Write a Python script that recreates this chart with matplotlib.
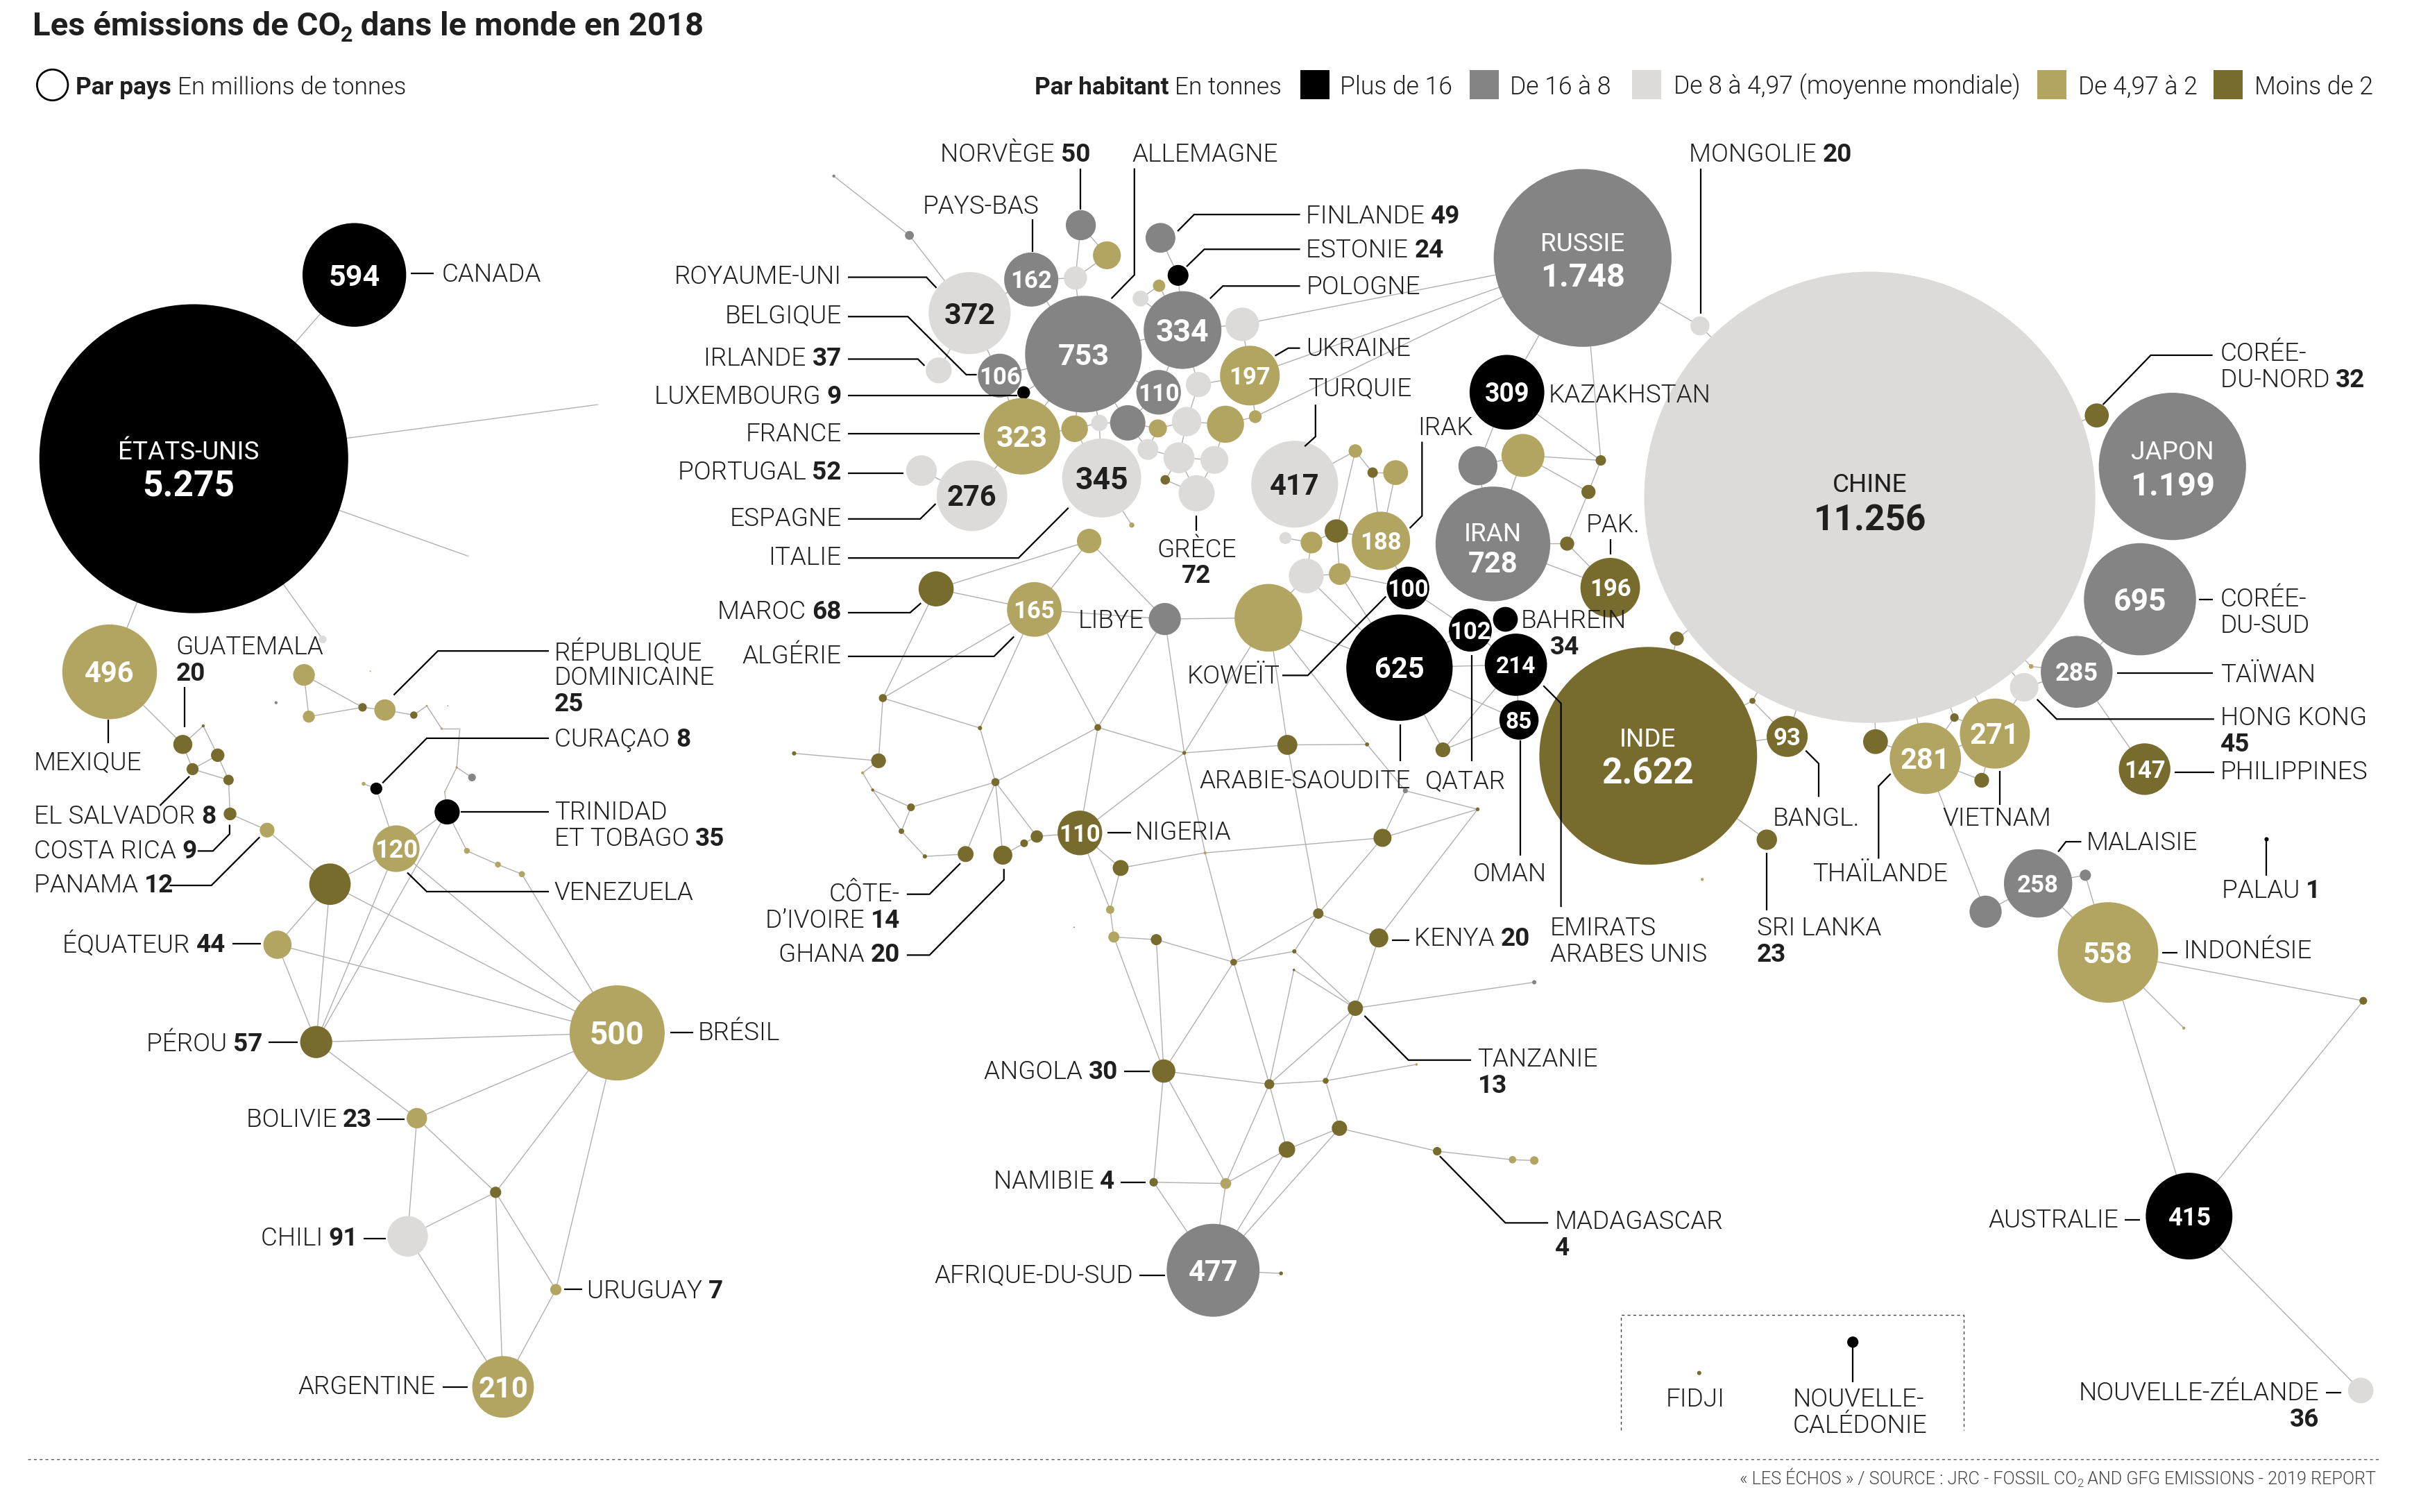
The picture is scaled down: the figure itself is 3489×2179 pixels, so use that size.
import math

import matplotlib
matplotlib.use("Agg")
import matplotlib.pyplot as plt
from matplotlib.patches import Circle, Rectangle

plt.rcParams["font.family"] = ["Roboto", "DejaVu Sans"]

# the sheet is laid out in units of the 1568 wide version of the page
W, H = 1568, 979
R_PER_SQRT = 1.377   # circle area follows emissions, USA = 100 units radius
LABEL_SIZE = 13.3

TIER_COLORS = ["#000000", "#848484", "#dcdbd9", "#b2a562", "#776b2d"]
INK = "#1f1f1f"

# --- Americas
am_names = ["Canada", "USA", "Mexique", "Bermudes", "Groenland", "StPierre", "Guatemala", "Belize",
            "Honduras", "Salvador", "Nicaragua", "CostaRica", "Panama", "Colombie", "Equateur",
            "Perou", "Bresil", "Bolivie", "Chili", "Paraguay", "Uruguay", "Argentine", "Venezuela",
            "Trinidad", "Curacao", "Aruba", "Guyana", "Suriname", "Guyane", "Cuba", "Jamaique",
            "Haiti", "RepDom", "PortoRico", "Antigua", "SteLucie", "StMartin", "Grenade", "Barbade",
            "Tobago", "Bahamas", "Caimans", "Dominique"]
am_emissions = [594, 5275, 496, 3.3, 0.2, 0.3, 20, 0.5,
                10, 8, 6, 9, 12, 95, 44,
                57, 500, 23, 91, 7, 7, 210, 120,
                35, 8, 0.8, 1.9, 1.9, 2.1, 26, 8,
                4, 25, 3, 0.2, 0.3, 0.2, 0.3, 3.3,
                0.05, 0.5, 0.1, 0.05]
am_tiers = [0, 0, 3, 2, 2, 2, 4, 4,
            4, 4, 4, 4, 3, 4, 3,
            4, 3, 3, 2, 4, 3, 3, 3,
            0, 0, 3, 3, 3, 3, 3, 3,
            4, 3, 4, 3, 3, 2, 3, 1,
            3, 1, 3, 4]
am_x = [229.5, 125.5, 71, 209, 387, 303, 118.4, 131.6,
        141, 124.7, 148, 149, 173, 213.7, 179.7,
        204.8, 399.7, 270, 264, 321, 360, 325.8, 256.6,
        289.6, 243.7, 235.5, 302.4, 322.5, 338, 196.9, 200,
        234.8, 249.3, 268, 276.4, 286, 297.8, 295.8, 305.7,
        288, 178.8, 239.8, 290]
am_y = [178, 297, 435, 414, 262, 360, 482, 470,
        489, 498, 505, 527, 537.5, 572.5, 611.7,
        674.7, 668.8, 724, 800.5, 772, 835, 898, 549.5,
        525.7, 510.6, 507.5, 550.9, 559.8, 566, 437, 464,
        458, 459.7, 463, 457, 471.8, 471.8, 496.9, 503.4,
        512.7, 455, 434.6, 457]

# --- Europe
eu_names = ["Feroe", "Islande", "RoyaumeUni", "PaysBas", "Norvege", "Suede", "Danemark", "Allemagne",
            "Finlande", "Estonie", "Lettonie", "Lituanie", "Pologne", "Bielorussie", "Ukraine",
            "Belgique", "Luxembourg", "Irlande", "France", "Portugal", "Espagne", "Italie",
            "Tchequie", "Slovaquie", "Moldavie", "Roumanie", "Hongrie", "Croatie", "Autriche",
            "Slovenie", "Suisse", "Bosnie", "Serbie", "Bulgarie", "Grece", "Albanie", "Malte"]
eu_emissions = [0.5, 4.4, 372, 162, 50, 43, 30, 753,
                49, 24, 8.4, 14, 334, 62, 197,
                106, 9, 37, 323, 52, 276, 345,
                110, 35, 9, 76, 48, 18, 69,
                15, 39, 24, 53, 43, 72, 5, 1.5]
eu_tiers = [1, 1, 2, 1, 1, 3, 2, 1,
            1, 0, 3, 2, 1, 2, 3,
            1, 0, 2, 3, 2, 2, 2,
            1, 2, 3, 3, 2, 3, 1,
            2, 3, 2, 2, 2, 2, 4, 3]
eu_x = [540, 589, 628, 667.9, 700, 716.9, 696.5, 701.7,
        751.6, 763, 750.7, 738.7, 765.9, 804.6, 809.5,
        647.5, 663, 608, 661.9, 596.8, 629.5, 713.5,
        750.4, 776.2, 813, 793.7, 768.5, 749.9, 730.4,
        712, 696, 743.5, 763.6, 786.5, 775, 754.7, 733]
eu_y = [114, 152.4, 202.7, 181, 145.8, 165.3, 180, 229.3,
        154, 178.3, 185, 193.3, 213.7, 210, 243.2,
        243.2, 254.2, 239.8, 282.5, 304.7, 321, 309.5,
        254, 249, 269.8, 274.7, 273, 277.4, 273.8,
        273.8, 277.6, 291, 296.4, 297.8, 319.4, 310.7, 340]

# --- Africa
af_names = ["Tunisie", "Maroc", "Algerie", "Libye", "Egypte", "Mauritanie", "Mali", "Niger", "Tchad",
            "Soudan", "Erythree", "Djibouti", "Somalie", "Ethiopie", "Centrafrique", "Ouganda",
            "Kenya", "Senegal", "CapVert", "Gambie", "GuineeB", "Guinee", "SierraLeone", "Liberia",
            "Burkina", "CoteIvoire", "Ghana", "Togo", "Benin", "Nigeria", "Cameroun", "GuineeEq",
            "Gabon", "Congo", "RDC", "Rwanda", "Burundi", "Tanzanie", "Seychelles", "Angola",
            "Zambie", "Malawi", "Comores", "Mozambique", "Zimbabwe", "Madagascar", "Reunion",
            "Maurice", "Namibie", "Botswana", "AfriqueSud", "Lesotho", "SaoTome"]
af_emissions = [33, 68, 165, 57, 253, 3.6, 1, 2.5, 0.8,
                22, 0.9, 1.4, 0.8, 18, 0.5, 6,
                20, 12, 1, 0.5, 0.5, 3.3, 1.7, 1,
                3.6, 14, 20, 3.3, 8.4, 110, 14, 3.8,
                6.8, 6.8, 2.5, 1, 0.34, 13, 1, 30,
                5.4, 1.9, 0.34, 13, 15, 4, 3,
                4, 4, 6.5, 477, 0.8, 0.1]
af_tiers = [3, 4, 3, 1, 3, 4, 4, 4, 4,
            4, 4, 1, 4, 4, 3, 4,
            4, 4, 4, 3, 4, 4, 4, 4,
            4, 4, 4, 4, 4, 4, 4, 3,
            3, 4, 4, 4, 4, 4, 1, 4,
            4, 4, 3, 4, 4, 4, 3,
            3, 4, 3, 1, 4, 1]
af_x = [705.4, 606.3, 669.9, 754.4, 821.5, 571.8, 634.7, 711, 767,
        833.8, 885.4, 910.2, 957, 895.4, 780.5, 853.8,
        893, 569, 514.3, 558.7, 565.2, 590, 583.8, 599,
        644.7, 625.4, 649.5, 663.3, 671.5, 699.4, 725.8, 719,
        721.4, 748.9, 799, 838.3, 838, 877.8, 993.7, 753.7,
        822.1, 858.6, 917.4, 867.5, 833.5, 930.8, 979.6,
        993.7, 747.2, 793.9, 785.7, 829.7, 695.6]
af_y = [350.3, 381.3, 394.6, 400.8, 400, 452, 471.4, 471, 487.5,
        482.3, 482, 512, 524, 542.5, 552.2, 591.5,
        607.3, 492.6, 487.8, 500.4, 511.5, 522.7, 538.2, 554.5,
        506.4, 553, 553.7, 546, 541.6, 539.3, 562, 589,
        606.7, 608.4, 623, 616, 628, 652.8, 636, 693.5,
        702, 699.8, 689.2, 730.5, 744.3, 745.4, 750.9,
        751.4, 765.5, 766.3, 822.5, 824.5, 600.4]

# --- Asia and Oceania
as_names = ["Turquie", "Georgie", "Armenie", "Azerbaidjan", "Irak", "Syrie", "Liban", "Chypre", "Israel",
            "Jordanie", "Koweit", "Arabie", "Qatar", "Bahrein", "Emirats", "Oman", "Yemen", "Iran",
            "Turkmenistan", "Ouzbekistan", "Kazakhstan", "Kirghizistan", "Tadjikistan", "Afghanistan",
            "Pakistan", "Inde", "Nepal", "Bhoutan", "Bangladesh", "SriLanka", "Maldives", "Chine",
            "Russie", "Mongolie", "CoreeNord", "Japon", "CoreeSud", "Taiwan", "Macao", "HongKong",
            "Philippines", "Thailande", "Vietnam", "Birmanie", "Cambodge", "Laos", "Malaisie",
            "Singapour", "Brunei", "Indonesie", "PNG", "Timor", "Palau", "Australie", "NZ",
            "Fidji", "NCaledonie"]
as_emissions = [417, 10, 6, 34, 188, 30, 26, 8, 67,
                26, 100, 625, 102, 34, 214, 85, 12, 728,
                84, 102, 309, 6, 11, 11,
                196, 2622, 11, 2, 93, 23, 0.5, 11256,
                1748, 20, 32, 1199, 695, 285, 1.2, 45,
                147, 281, 271, 34, 12, 4, 258,
                57, 7, 558, 3.3, 0.5, 1, 415, 36,
                1, 7]
as_tiers = [2, 3, 4, 3, 3, 4, 3, 2, 2,
            3, 0, 0, 0, 0, 0, 0, 4, 1,
            1, 3, 0, 4, 4, 4,
            4, 4, 4, 4, 4, 4, 3, 2,
            1, 2, 4, 1, 1, 1, 3, 2,
            4, 3, 3, 4, 4, 4, 1,
            1, 1, 3, 4, 3, 0, 0, 2,
            4, 0]
as_x = [838.5, 877.8, 889, 903.9, 894.4, 865.5, 849.4, 832.5, 846,
        867.7, 911.9, 906.4, 952.3, 975, 981.8, 983.8, 934.5, 966.9,
        957.2, 986.4, 976, 1036.8, 1028.8, 1015,
        1042.9, 1067.5, 1086, 1135, 1157.5, 1144.3, 1102.5, 1211,
        1025, 1101, 1358, 1407, 1386, 1345, 1315.5, 1311,
        1389, 1247, 1292, 1214.7, 1283.5, 1265.8, 1320,
        1286, 1350.6, 1365.3, 1530.6, 1414.4, 1468, 1417.8, 1529,
        1100.5, 1200]
as_y = [313.5, 292, 306, 306, 350.2, 343.8, 351.3, 348.4, 372.9,
        371.7, 380.7, 432.3, 408, 401, 430.4, 466.2, 485.5, 352.2,
        301.6, 294.9, 254, 298.1, 318.5, 352,
        380.5, 489.4, 413.5, 453.8, 476.8, 543.7, 569.4, 322,
        167, 211, 269, 302, 388, 435, 431.5, 445,
        498, 491, 475, 480.2, 505.2, 464.6, 572,
        590.3, 566.7, 616.7, 648, 665.7, 543.4, 787.4, 900.3,
        889, 869]

names = am_names + eu_names + af_names + as_names
emissions = am_emissions + eu_emissions + af_emissions + as_emissions
tiers = am_tiers + eu_tiers + af_tiers + as_tiers
node_x = am_x + eu_x + af_x + as_x
node_y = am_y + eu_y + af_y + as_y

# --- neighbours
am_edges = """USA-Canada USA-Mexique USA-Bermudes USA-Groenland USA-StPierre Mexique-Guatemala
Guatemala-Belize Guatemala-Salvador Belize-Honduras Honduras-Salvador Salvador-Nicaragua Honduras-Nicaragua
Nicaragua-CostaRica CostaRica-Panama Panama-Colombie Colombie-Venezuela Colombie-Equateur Colombie-Perou
Colombie-Bresil Venezuela-Trinidad Venezuela-Curacao Curacao-Aruba Venezuela-Perou Venezuela-Bresil
Trinidad-Perou Trinidad-Guyana Guyana-Suriname Suriname-Guyane Guyane-Bresil Equateur-Perou Equateur-Bresil
Perou-Bresil Perou-Bolivie Bolivie-Bresil Bolivie-Chili Bolivie-Paraguay Paraguay-Chili Paraguay-Bresil
Paraguay-Argentine Paraguay-Uruguay Uruguay-Bresil Uruguay-Argentine Chili-Argentine Cuba-Jamaique Cuba-Haiti
Jamaique-Haiti Haiti-RepDom RepDom-PortoRico PortoRico-Antigua Antigua-SteLucie SteLucie-StMartin
StMartin-Grenade Grenade-Barbade Grenade-Tobago Tobago-Trinidad""".split()
eu_edges = """Feroe-Islande Islande-RoyaumeUni RoyaumeUni-Irlande RoyaumeUni-Belgique RoyaumeUni-PaysBas
PaysBas-Danemark PaysBas-Allemagne Norvege-Danemark Norvege-Suede Suede-Danemark Danemark-Allemagne
Finlande-Estonie Estonie-Pologne Lettonie-Lituanie Lettonie-Pologne Lituanie-Pologne Allemagne-Pologne
Allemagne-Belgique Belgique-Luxembourg Luxembourg-Allemagne France-Luxembourg France-Belgique France-Allemagne
France-Espagne Espagne-Portugal Suisse-Italie France-Suisse Suisse-Allemagne Suisse-Slovenie Allemagne-Slovenie
Slovenie-Autriche Autriche-Allemagne Autriche-Tchequie Tchequie-Allemagne Tchequie-Pologne Slovaquie-Pologne
Pologne-Bielorussie Bielorussie-Ukraine Slovaquie-Ukraine Slovaquie-Hongrie Hongrie-Croatie Croatie-Autriche
Hongrie-Roumanie Roumanie-Moldavie Moldavie-Ukraine Autriche-Bosnie Croatie-Bosnie Bosnie-Serbie Serbie-Hongrie
Serbie-Bulgarie Roumanie-Bulgarie Serbie-Grece Bulgarie-Grece Grece-Albanie Albanie-Serbie Italie-Malte
Bielorussie-Russie Ukraine-Russie Moldavie-Russie Italie-Slovenie""".split()
af_edges = """Maroc-Algerie Maroc-Tunisie Tunisie-Algerie Tunisie-Libye Algerie-Libye Libye-Egypte Maroc-Mauritanie
Algerie-Mauritanie Algerie-Mali Algerie-Niger Mauritanie-Mali Mauritanie-Senegal Mali-Burkina Niger-Libye
Niger-Burkina Niger-Nigeria Niger-Tchad Tchad-Libye Tchad-Egypte Tchad-Nigeria Tchad-Soudan Tchad-Centrafrique
Centrafrique-RDC RDC-Zambie Soudan-Egypte Soudan-Erythree Soudan-Ouganda Egypte-Erythree Erythree-Djibouti
Djibouti-Ethiopie Djibouti-Somalie Ethiopie-Somalie Somalie-Kenya Ethiopie-Centrafrique Cameroun-Centrafrique
Ethiopie-Ouganda Ouganda-Kenya Ouganda-RDC Rwanda-RDC Rwanda-Ouganda Rwanda-Tanzanie Burundi-Tanzanie
Burundi-Zambie Kenya-Tanzanie Tanzanie-Seychelles Tanzanie-Zambie Tanzanie-Malawi Malawi-Zambie Malawi-Comores
Malawi-Mozambique Mozambique-Zimbabwe Zimbabwe-Zambie Mozambique-Madagascar Madagascar-Reunion Reunion-Maurice
Mozambique-AfriqueSud Zimbabwe-AfriqueSud Zimbabwe-Botswana Botswana-Zambie Botswana-Angola Botswana-Namibie
Botswana-AfriqueSud Namibie-Angola Namibie-AfriqueSud Angola-Zambie Angola-RDC Angola-Congo Angola-Gabon
Gabon-Congo Congo-RDC Gabon-GuineeEq GuineeEq-Cameroun GuineeEq-Nigeria Nigeria-Cameroun Nigeria-Benin
Benin-Togo Togo-Ghana Ghana-Burkina Benin-Burkina CoteIvoire-Burkina CoteIvoire-Liberia Liberia-SierraLeone
SierraLeone-Guinee SierraLeone-GuineeB GuineeB-Gambie GuineeB-Guinee Guinee-Burkina Gambie-Senegal
Senegal-CapVert AfriqueSud-Lesotho""".split()
as_edges = """Turquie-Georgie Georgie-Armenie Armenie-Azerbaidjan Armenie-Irak Azerbaidjan-Irak Georgie-Syrie
Syrie-Liban Syrie-Irak Syrie-Jordanie Liban-Chypre Liban-Israel Israel-Jordanie Israel-Egypte Israel-Arabie
Jordanie-Koweit Jordanie-Arabie Irak-Koweit Koweit-Qatar Qatar-Arabie Qatar-Emirats Arabie-Emirats Arabie-Oman
Emirats-Oman Oman-Yemen Emirats-Yemen Arabie-Yemen Egypte-Arabie Iran-Turkmenistan Iran-Ouzbekistan
Turkmenistan-Ouzbekistan Turkmenistan-Kazakhstan Kazakhstan-Russie Kazakhstan-Kirghizistan Ouzbekistan-Kirghizistan
Ouzbekistan-Tadjikistan Kirghizistan-Tadjikistan Tadjikistan-Afghanistan Afghanistan-Iran Afghanistan-Pakistan
Pakistan-Iran Russie-Kirghizistan Russie-Mongolie Mongolie-Chine Inde-Bangladesh Inde-Bhoutan Bhoutan-Bangladesh
Bhoutan-Chine Bangladesh-Chine Inde-Nepal Nepal-Chine Inde-SriLanka Birmanie-Chine Birmanie-Thailande
Thailande-Chine Thailande-Vietnam Vietnam-Chine Vietnam-Laos Laos-Thailande Laos-Chine Thailande-Cambodge
Vietnam-Cambodge Thailande-Singapour Singapour-Malaisie Malaisie-Indonesie Malaisie-Brunei Brunei-Indonesie
Indonesie-Australie Indonesie-PNG PNG-Australie Indonesie-Timor Australie-NZ Taiwan-Philippines CoreeSud-Taiwan
Taiwan-Macao Macao-Chine Taiwan-HongKong HongKong-Chine HongKong-Vietnam CoreeNord-Chine""".split()
edges = am_edges + eu_edges + af_edges + as_edges

# numbers printed inside circles: country -> font size
inside_sizes = {"Canada": 15.5, "Mexique": 15, "Bresil": 16.5, "Argentine": 15, "Venezuela": 13,
                "RoyaumeUni": 15.5, "PaysBas": 12.5, "Allemagne": 15.5, "Pologne": 16, "Ukraine": 12.5,
                "Belgique": 12.5, "France": 15.5, "Espagne": 15, "Italie": 16, "Tchequie": 12.5,
                "Algerie": 12.5, "Nigeria": 12.5, "AfriqueSud": 15, "Turquie": 15, "Irak": 12.5,
                "Koweit": 12.5, "Arabie": 15, "Qatar": 12.5, "Emirats": 12, "Oman": 12,
                "Pakistan": 12.5, "Kazakhstan": 13.5, "Bangladesh": 12.5, "CoreeSud": 16,
                "Taiwan": 13, "Philippines": 12.5, "Thailande": 15, "Vietnam": 15, "Malaisie": 12.5,
                "Indonesie": 15, "Australie": 13}

# big circles carry their name too: country, name, x, y of the name, number size, number gap
inside_named = [("USA", "ÉTATS-UNIS", 122, 292, 18.5, 21),
                ("Chine", "CHINE", 1211, 313, 18.5, 22),
                ("Russie", "RUSSIE", 1025, 157, 17, 21),
                ("Japon", "JAPON", 1407, 292, 17, 21),
                ("Iran", "IRAN", 967, 345, 15, 19),
                ("Inde", "INDE", 1067, 478, 18.5, 21)]

# outside labels: x, y, plain part, bold part, alignment
labels = [(286, 177, "CANADA", "", "left"), (22, 493, "MEXIQUE", "", "left"), (114, 418, "GUATEMALA", "", "left"),
          (114, 435, "", "20", "left"), (359, 422, "RÉPUBLIQUE", "", "left"), (359, 438, "DOMINICAINE", "", "left"),
          (359, 455, "", "25", "left"), (359, 478, "CURAÇAO", "8", "left"), (359, 525, "TRINIDAD", "", "left"),
          (359, 542, "ET TOBAGO", "35", "left"), (359, 577, "VENEZUELA", "", "left"),
          (22, 527.5, "EL SALVADOR", "8", "left"), (22, 550, "COSTA RICA", "9", "left"), (22, 572, "PANAMA", "12", "left"),
          (146, 611, "ÉQUATEUR", "44", "right"), (170, 675, "PÉROU", "57", "right"), (452, 668, "BRÉSIL", "", "left"),
          (241, 724, "BOLIVIE", "23", "right"), (232, 801, "CHILI", "91", "right"), (380, 835, "URUGUAY", "7", "left"),
          (282, 897, "ARGENTINE", "", "right"),
          (706, 99, "NORVÈGE", "50", "right"), (733, 99, "ALLEMAGNE", "", "left"), (673, 133, "PAYS-BAS", "", "right"),
          (545, 178, "ROYAUME-UNI", "", "right"), (545, 203.5, "BELGIQUE", "", "right"), (545, 231, "IRLANDE", "37", "right"),
          (545, 256, "LUXEMBOURG", "9", "right"), (545, 280, "FRANCE", "", "right"), (545, 305, "PORTUGAL", "52", "right"),
          (545, 335, "ESPAGNE", "", "right"), (545, 360, "ITALIE", "", "right"), (545, 395, "MAROC", "68", "right"),
          (545, 424, "ALGÉRIE", "", "right"), (846, 139, "FINLANDE", "49", "left"), (846, 161, "ESTONIE", "24", "left"),
          (846, 185, "POLOGNE", "", "left"), (846, 225, "UKRAINE", "", "left"), (847, 251, "TURQUIE", "", "left"),
          (775, 355, "GRÈCE", "", "center"), (775, 372, "", "72", "center"), (741, 401, "LIBYE", "", "right"),
          (829, 437, "KOWEÏT", "", "right"), (918, 276, "IRAK", "", "left"), (985, 401, "BAHREIN", "", "left"),
          (1004, 418, "", "34", "left"), (777, 505, "ARABIE-SAOUDITE", "", "left"), (923, 505, "QATAR", "", "left"),
          (954, 565, "OMAN", "", "left"), (1004, 600, "EMIRATS", "", "left"), (1004, 617, "ARABES UNIS", "", "left"),
          (1027, 339, "PAK.", "", "left"), (1003, 255, "KAZAKHSTAN", "", "left"), (1094, 99, "MONGOLIE", "20", "left"),
          (1148, 529, "BANGL.", "", "left"), (1138, 600, "SRI LANKA", "", "left"), (1138, 617, "", "23", "left"),
          (1174, 565, "THAÏLANDE", "", "left"), (1258, 529, "VIETNAM", "", "left"), (1351, 545, "MALAISIE", "", "left"),
          (1439, 576, "PALAU", "1", "left"), (1414, 615, "INDONÉSIE", "", "left"), (1372, 789, "AUSTRALIE", "", "right"),
          (1502, 901, "NOUVELLE-ZÉLANDE", "", "right"), (1502, 918, "", "36", "right"), (1438, 228, "CORÉE-", "", "left"),
          (1438, 245, "DU-NORD", "32", "left"), (1438, 387, "CORÉE-", "", "left"), (1438, 404, "DU-SUD", "", "left"),
          (1438, 436, "TAÏWAN", "", "left"), (1438, 464, "HONG KONG", "", "left"), (1438, 481, "", "45", "left"),
          (1438, 499, "PHILIPPINES", "", "left"), (1007, 790, "MADAGASCAR", "", "left"), (1007, 807, "", "4", "left"),
          (957, 685, "TANZANIE", "", "left"), (957, 702, "", "13", "left"), (916, 607, "KENYA", "20", "left"),
          (735, 538, "NIGERIA", "", "left"), (583, 578, "CÔTE-", "", "right"), (583, 595, "D’IVOIRE", "14", "right"),
          (583, 617, "GHANA", "20", "right"), (724, 693, "ANGOLA", "30", "right"), (722, 764, "NAMIBIE", "4", "right"),
          (734, 825, "AFRIQUE-DU-SUD", "", "right"), (1098, 905, "FIDJI", "", "center"), (1161, 905, "NOUVELLE-", "", "left"),
          (1161, 922, "CALÉDONIE", "", "left")]

leaders = [[(266, 177), (281, 177)], [(70, 466), (70, 481)], [(119.4, 445), (119.4, 471)],
           [(255, 450), (283.6, 421.5), (355.5, 421.5)], [(247.7, 507), (276.4, 478), (355.5, 478)],
           [(298.5, 525.7), (355.5, 525.7)], [(263.8, 565), (276.4, 577.3), (355.5, 577.3)],
           [(122.7, 502.7), (103.6, 521.6)], [(148.7, 534), (148.7, 540), (137.9, 551), (128, 551)],
           [(168.2, 542), (136.9, 573.3), (109.8, 573.3)], [(150.4, 611), (168.9, 611)], [(174, 675), (192.6, 675)],
           [(434, 668.5), (449, 668.5)], [(244, 724.5), (262, 724.5)], [(235.5, 802), (249.7, 802)],
           [(365.4, 835), (377, 835)], [(286.6, 898), (302.8, 898)],
           [(699.7, 109), (699.7, 135.5)], [(734.7, 109), (734.7, 178), (719.8, 193.3)], [(668.8, 142), (668.8, 163)],
           [(549.2, 179.5), (600, 179.5), (606.5, 186.4)], [(549.2, 205), (588, 205), (625.8, 242.6), (632.6, 242.6)],
           [(549.2, 232.5), (594.5, 232.5), (598.8, 236.8)], [(549.2, 256.3), (659, 256.3)], [(549.2, 280.6), (634.6, 280.6)],
           [(549.2, 306.3), (585, 306.3)], [(549.2, 336), (596, 336), (606, 326.2)],
           [(549.2, 361.3), (659.6, 361.3), (692, 328.8)], [(549.2, 396.7), (589.4, 396.7), (596.5, 390.5)],
           [(549.2, 425), (643.8, 425), (656.7, 412.2)], [(762.7, 149.7), (773.4, 138.9), (842, 138.9)],
           [(768.5, 172.6), (780, 161.4), (842, 161.4)], [(783.7, 193.3), (792, 185.2), (842, 185.2)],
           [(825.8, 230.4), (834.4, 225.4), (842, 225.4)], [(852, 262), (852, 282.7), (845, 289)],
           [(775, 333.6), (775, 343.5)], [(830.5, 437.3), (847, 437.3), (897.6, 386.2)],
           [(921, 286), (921, 334), (913, 342)], [(907, 469), (907, 493)], [(953.4, 424), (953.4, 493)],
           [(984.7, 479.5), (984.7, 554)], [(999.6, 444), (1011, 455.4), (1011, 587.3)], [(1043, 349), (1043, 359)],
           [(1101.5, 109), (1101.5, 203)], [(1169.5, 486), (1177.9, 494.4), (1177.9, 516)],
           [(1144.3, 552), (1144.3, 589.6)], [(1224.5, 501), (1216.7, 509), (1216.7, 556)], [(1295, 499), (1295, 521)],
           [(1333, 551.5), (1338, 545), (1348, 545)], [(1468, 543), (1468, 567)], [(1400.4, 616.7), (1410.3, 616.7)],
           [(1376, 790), (1386, 790)], [(1506.4, 901.6), (1516.3, 901.6)], [(1362, 262), (1393, 230), (1433, 230)],
           [(1424, 388), (1433, 388)], [(1371, 436), (1433, 436)], [(1319.3, 452.8), (1332, 465.6), (1434, 465.6)],
           [(1408.6, 500), (1434, 500)], [(932.5, 748.6), (975, 791.8), (1002.7, 791.8)],
           [(883.7, 657.7), (912.2, 686.4), (952.8, 686.4)], [(901.6, 609), (912.6, 609)], [(717.2, 539), (732.4, 539)],
           [(622, 559), (602, 579), (587.3, 579)], [(650.2, 562.6), (650.2, 569.7), (602, 618.4), (587.3, 618.4)],
           [(728, 693.8), (744.8, 693.8)], [(725.8, 765.5), (742, 765.5)], [(737.9, 826), (754.4, 826)],
           [(1200, 869), (1200, 895)]]

# legend
swatch_left = [842.3, 951.8, 1057, 1319.6, 1433.7]
swatch_text = ["Plus de 16", "De 16 à 8", "De 8 à 4,97 (moyenne mondiale)", "De 4,97 à 2", "Moins de 2"]
swatch_text_x = [868, 978, 1084, 1346, 1460]


fig = plt.figure(figsize=(3489 / 200, 2179 / 200), dpi=200)
ax = fig.add_axes([0, 0, 1, 1])
ax.set_xlim(0, W)
ax.set_ylim(H, 0)
ax.axis("off")
renderer = fig.canvas.get_renderer()
PX = 3489 / W


def run_text(x, y, runs, ha="left", color=INK, zorder=5):
    # a row of text pieces in different weights: (text, weight, size, shift down)
    pieces = []
    for text, weight, size, dy in runs:
        t = ax.text(x, y + dy, text, fontsize=size, fontweight=weight, color=color,
                    ha="left", va="baseline", zorder=zorder)
        pieces.append((t, t.get_window_extent(renderer).width / PX))
    total = sum(p[1] for p in pieces)
    if ha == "right":
        x -= total
    elif ha == "center":
        x -= total / 2
    for t, width in pieces:
        t.set_x(x)
        x += width


def label(x, y, plain, bold, ha="left", size=LABEL_SIZE, color=INK, weight=300):
    runs = []
    if plain:
        runs.append((plain + ("\u00a0" if bold else ""), weight, size, 0))
    if bold:
        runs.append((bold, 700, size, 0))
    run_text(x, y + 0.42 * size, runs, ha, color)


def fmt(v):
    return f"{v:,}".replace(",", ".")


index = {n: i for i, n in enumerate(names)}

for pair in edges:
    a, b = pair.split("-")
    ax.plot([node_x[index[a]], node_x[index[b]]], [node_y[index[a]], node_y[index[b]]],
            color="#b0b0b0", lw=0.5, zorder=1, solid_capstyle="round")

for n, v, t, x, y in zip(names, emissions, tiers, node_x, node_y, strict=True):
    ax.add_patch(Circle((x, y), R_PER_SQRT * math.sqrt(v), fc=TIER_COLORS[t], ec="none", zorder=2))

for n, size in inside_sizes.items():
    i = index[n]
    color = INK if tiers[i] == 2 else "white"
    ax.text(node_x[i], node_y[i] + 0.45 * size, fmt(emissions[i]), fontsize=size, fontweight=700,
            color=color, ha="center", va="baseline", zorder=5)

for n, title, x, y, size, gap in inside_named:
    i = index[n]
    color = INK if tiers[i] == 2 else "white"
    label(x, y, title, "", "center", color=color, weight=400)
    ax.text(x, y + gap + 0.45 * size, fmt(emissions[i]), fontsize=size, fontweight=700,
            color=color, ha="center", va="baseline", zorder=5)

for path in leaders:
    ax.plot([p[0] for p in path], [p[1] for p in path], color="black", lw=0.8, zorder=3,
            solid_joinstyle="miter", solid_capstyle="butt")

for x, y, plain, bold, ha in labels:
    label(x, y, plain, bold, ha)

# header
run_text(21, 23, [("Les émissions de CO", 700, 17, 0), ("2", 700, 11, 4),
                  ("\u00a0dans le monde en 2018", 700, 17, 0)])
ax.add_patch(Circle((34, 55), 10, fc="white", ec="black", lw=1.0, zorder=2))
run_text(49, 61, [("Par pays\u00a0", 700, 12.7, 0), ("En millions de tonnes", 300, 12.7, 0)])
run_text(670, 61, [("Par habitant\u00a0", 700, 12.7, 0), ("En tonnes", 300, 12.7, 0)])
for left, color, text, tx in zip(swatch_left, TIER_COLORS, swatch_text, swatch_text_x):
    ax.add_patch(Rectangle((left, 45.5), 18.8, 18.9, fc=color, ec="none", zorder=2))
    run_text(tx, 61, [(text, 300, 12.8, 0)])

# Pacific box and foot
box_x = [1049.7, 1049.7, 1272, 1272]
box_y = [926, 851.6, 851.6, 926]
ax.plot(box_x, box_y, color="#444444", lw=0.5, ls=(0, (3, 3)), zorder=1)
ax.plot([18, 1542], [945, 945], color="#555555", lw=0.5, ls=(0, (3, 3)), zorder=1)
run_text(1539, 961, [("« LES ÉCHOS » / SOURCE : JRC - FOSSIL CO", 300, 9.1, 0), ("2", 300, 6, 2),
                     ("\u00a0AND GFG EMISSIONS - 2019 REPORT", 300, 9.1, 0)], ha="right", color="#444444")

fig.savefig("out.png", dpi=200)
